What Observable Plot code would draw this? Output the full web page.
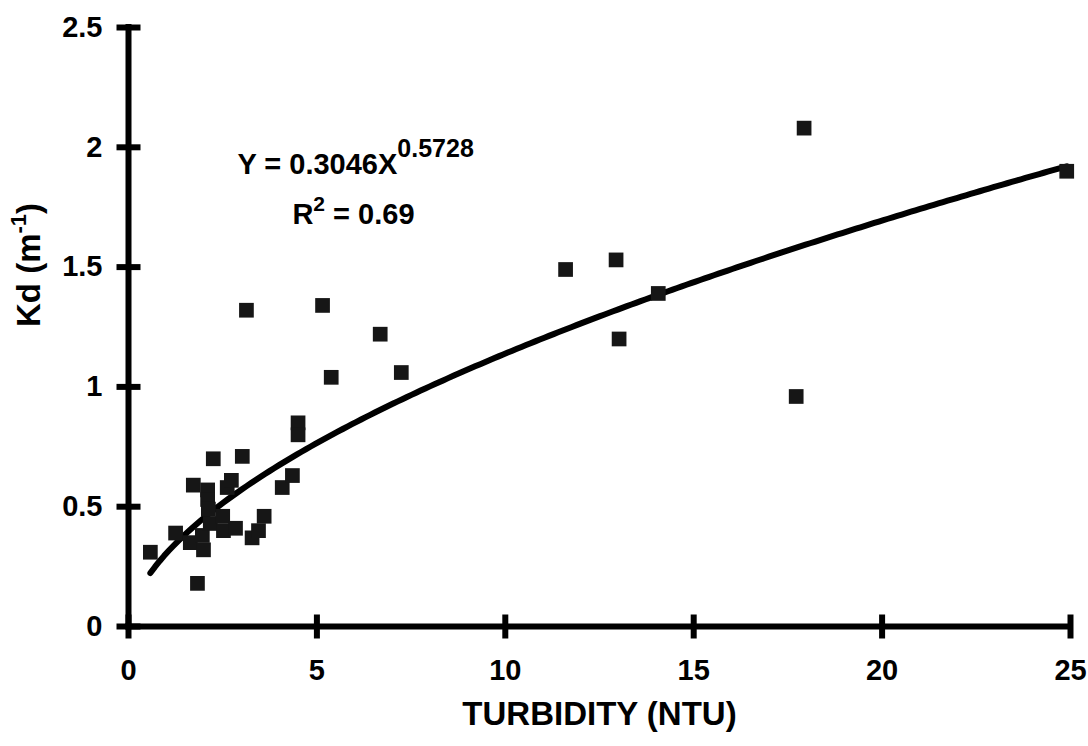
<!DOCTYPE html>
<html>
<head>
<meta charset="utf-8">
<script src="https://cdn.jsdelivr.net/npm/d3@7"></script>
<script src="https://cdn.jsdelivr.net/npm/@observablehq/plot@0.6"></script>
<style>
  html, body { margin: 0; padding: 0; background: #fff; }
  #chart svg { display: block; }
</style>
</head>
<body>
<div id="chart"></div>
<script>
// ---- data ----
const turbidity = [0.58, 1.25, 1.64, 1.72, 1.83, 1.96, 1.99, 2.1, 2.1, 2.12, 2.17, 2.25, 2.5, 2.52, 2.62, 2.73, 2.84, 3.02, 3.13, 3.28, 3.45, 3.6, 4.08, 4.35, 4.5, 4.5, 5.15, 5.38, 6.68, 7.24, 11.6, 12.94, 13.02, 14.06, 17.72, 17.93, 24.9];
const kd        = [0.31, 0.39, 0.35, 0.59, 0.18, 0.38, 0.32, 0.57, 0.53, 0.49, 0.43, 0.70, 0.46, 0.40, 0.58, 0.61, 0.41, 0.71, 1.32, 0.37, 0.40, 0.46, 0.58, 0.63, 0.85, 0.80, 1.34, 1.04, 1.22, 1.06, 1.49, 1.53, 1.20, 1.39, 0.96, 2.08, 1.90];
const xTicks = [0, 5, 10, 15, 20, 25];
const yTicks = [0, 0.5, 1, 1.5, 2, 2.5];
const xLabel = "TURBIDITY (NTU)";
// power-law fit shown on the chart: Y = a * X^b
const fitA = 0.3046;
const fitB = 0.5728;
const fitR2 = "0.69";
// annotation anchors (data units)
const eqAnchor = {x: 2.89, y: 1.89};
const r2Anchor = {x: 4.35, y: 1.68};

const points = turbidity.map((t, i) => ({t, kd: kd[i]}));
const [tMin, tMax] = d3.extent(turbidity);
const fitLine = d3.range(0, 201).map(i => {
  const t = tMin + (tMax - tMin) * i / 200;
  return {t, kd: fitA * Math.pow(t, fitB)};
});

const vTick = {draw(ctx) { ctx.moveTo(0, -12); ctx.lineTo(0, 12); }};
const hTick = {draw(ctx) { ctx.moveTo(-12, 0); ctx.lineTo(12, 0); }};

const chart = Plot.plot({
  width: 1088,
  height: 746,
  marginLeft: 128,
  marginRight: 18,
  marginTop: 27,
  marginBottom: 120,
  x: {domain: [0, 25], axis: null},
  y: {domain: [0, 2.5], axis: null},
  style: {fontFamily: "'Liberation Sans', Arial, Helvetica, sans-serif", background: "#fff", color: "#000"},
  marks: [
    // axis lines
    Plot.ruleY([0], {stroke: "#000", strokeWidth: 6, strokeLinecap: "square"}),
    Plot.ruleX([0], {stroke: "#000", strokeWidth: 6, strokeLinecap: "square"}),
    // cross ticks
    Plot.dot(xTicks, {x: d => d, y: () => 0, symbol: vTick, r: 5, fill: "none", stroke: "#000", strokeWidth: 6}),
    Plot.dot(yTicks, {x: () => 0, y: d => d, symbol: hTick, r: 5, fill: "none", stroke: "#000", strokeWidth: 6}),
    // tick labels
    Plot.text(xTicks, {x: d => d, y: () => 0, text: d => String(d), dy: 44, fontSize: 29, fontWeight: "bold", fill: "#000"}),
    Plot.text(yTicks, {x: () => 0, y: d => d, text: d => String(d), dx: -26, textAnchor: "end", fontSize: 29, fontWeight: "bold", fill: "#000"}),
    // axis titles
    Plot.text([xLabel], {frameAnchor: "bottom", text: d => d, dy: 98, fontSize: 33, fontWeight: "bold", fill: "#000", letterSpacing: "0.8px"}),
    Plot.text(["__KD__"], {frameAnchor: "left", text: d => d, dx: -99, rotate: -90, fontSize: 33, fontWeight: "bold", fill: "#000"}),
    // fitted curve
    Plot.line(fitLine, {x: "t", y: "kd", stroke: "#000", strokeWidth: 6, curve: "linear"}),
    // data points
    Plot.dot(points, {x: "t", y: "kd", symbol: "square", r: 8.3, fill: "#161616", stroke: "none"}),
    // equation annotations
    Plot.text(["__EQ__"], {x: () => eqAnchor.x, y: () => eqAnchor.y, text: d => d, textAnchor: "start", lineAnchor: "bottom", fontSize: 29, fontWeight: "bold", fill: "#000"}),
    Plot.text(["__R2__"], {x: () => r2Anchor.x, y: () => r2Anchor.y, text: d => d, textAnchor: "start", lineAnchor: "bottom", fontSize: 29, fontWeight: "bold", fill: "#000"})
  ]
});

document.getElementById("chart").appendChild(chart);

// rich text with superscripts
d3.select(chart).selectAll("text").each(function() {
  const sel = d3.select(this);
  const t = this.textContent;
  if (t === "__EQ__") {
    sel.text(null);
    sel.append("tspan").text(`Y = ${fitA}X`);
    sel.append("tspan").attr("dy", -17).attr("font-size", 25).text(String(fitB));
  } else if (t === "__R2__") {
    sel.text(null);
    sel.append("tspan").text("R");
    sel.append("tspan").attr("dy", -13).attr("font-size", 21).text("2");
    sel.append("tspan").attr("dy", 13).text(` = ${fitR2}`);
  } else if (t === "__KD__") {
    sel.text(null);
    sel.append("tspan").text("Kd (m");
    sel.append("tspan").attr("dy", -14).attr("font-size", 22).text("-1");
    sel.append("tspan").attr("dy", 14).text(")");
  }
});
</script>
</body>
</html>
